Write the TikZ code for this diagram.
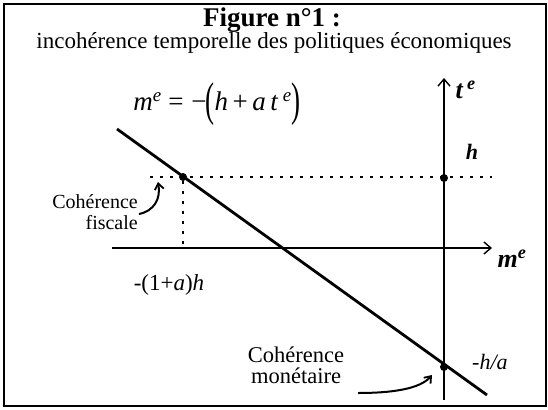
\documentclass[tikz,border=0pt]{standalone}
\usepackage{fontspec}
\usepackage{graphicx}
\setmainfont{Liberation Serif}
\usetikzlibrary{arrows.meta}
\newcommand{\bigparen}[1]{\raisebox{-4.5pt}{\scalebox{1}[1.75]{#1}}}
\tikzset{
  axis/.style={line width=1.4pt,-{Straight Barb[length=7pt,width=12pt,line width=1.4pt]}},
  dotline/.style={line width=2pt,dash pattern=on 3pt off 7pt},
  mainline/.style={line width=2.8pt},
  pt/.style={circle,fill=black,inner sep=0pt,minimum size=8pt},
  lbl/.style={inner sep=1pt,font=\fontsize{22}{24}\selectfont},
  curvearrow/.style={line width=2pt,-{Straight Barb[length=6pt,width=9pt,line width=1.8pt]}}
}
\begin{document}
\begin{tikzpicture}[x=1pt,y=-1pt]
\useasboundingbox (0,0) rectangle (548,409);
\draw[line width=1.8pt] (4,4) rectangle (546,406);
% titles
\node[anchor=base,inner sep=0pt,text height=19pt,text depth=4pt,font=\fontsize{27}{29}\selectfont\bfseries] (title) at (272,27) {Figure n°1 :};
\node[anchor=base,inner sep=0pt,text height=16pt,text depth=5pt,font=\fontsize{23}{26}\selectfont] (subtitle) at (274,49) {incohérence temporelle des politiques économiques};
% equation
\node[font=\fontsize{27}{29}\selectfont] (eq) at (217,104) {\textit{m}\textsuperscript{\textit{e}} = \kern1pt−\kern-1pt\bigparen{(}\textit{h}\,+\,\textit{a}\,\textit{t}\,\textsuperscript{\textit{e}}\bigparen{)}};
% axes
\coordinate (vbot) at (444,400);
\coordinate (vtop) at (444,78);
\coordinate (hleft) at (112,248);
\coordinate (hright) at (492,248);
\draw[axis] (vbot) -- (vtop);
\draw[axis] (hleft) -- (hright);
\node[anchor=west,font=\fontsize{26}{28}\selectfont\bfseries\itshape] (tlab) at (452,90) {t\,\textsuperscript{e}};
\node[anchor=west,font=\fontsize{26}{28}\selectfont\bfseries\itshape] (mlab) at (494,259) {m\textsuperscript{e}};
% dotted lines
\coordinate (dl) at (150,177);
\coordinate (dr) at (492,177);
\draw[dotline] (dl) -- (dr);
\node[pt] (pf) at (183,177) {};
\node[pt] (ph) at (444,178) {};
\node[pt] (pm) at (444,367) {};
\coordinate (vfoot) at (183,247);
\draw[dotline] (pf) -- (vfoot);
% main line
\coordinate (ls) at (117,129);
\coordinate (le) at (487,395);
\draw[mainline] (ls) -- (le);
% labels
\node[lbl,font=\fontsize{22}{24}\selectfont\bfseries\itshape] (hlab) at (472,152) {h};
\node[lbl,anchor=west] (halab) at (471,362) {\textit{-h/a}};
\node[lbl,font=\fontsize{23}{25}\selectfont] (oplab) at (169,285) {-(1+\textit{a})\textit{h}};
\node[lbl,anchor=east,align=right,font=\fontsize{20}{21}\selectfont] (cf) at (139,212) {Cohérence\\fiscale};
\node[lbl,align=center,font=\fontsize{22.5}{21}\selectfont] (cm) at (296,365) {Cohérence\\monétaire};
% curved arrows
\coordinate (cfa) at (139,214);
\coordinate (cfb) at (158,182);
\draw[curvearrow] (cfa) .. controls (154,211) and (161,199) .. (cfb);
\coordinate (cma) at (358,393);
\coordinate (cmb) at (432,375);
\draw[curvearrow] (cma) .. controls (392,393) and (420,389) .. (cmb);
\end{tikzpicture}
\end{document}
